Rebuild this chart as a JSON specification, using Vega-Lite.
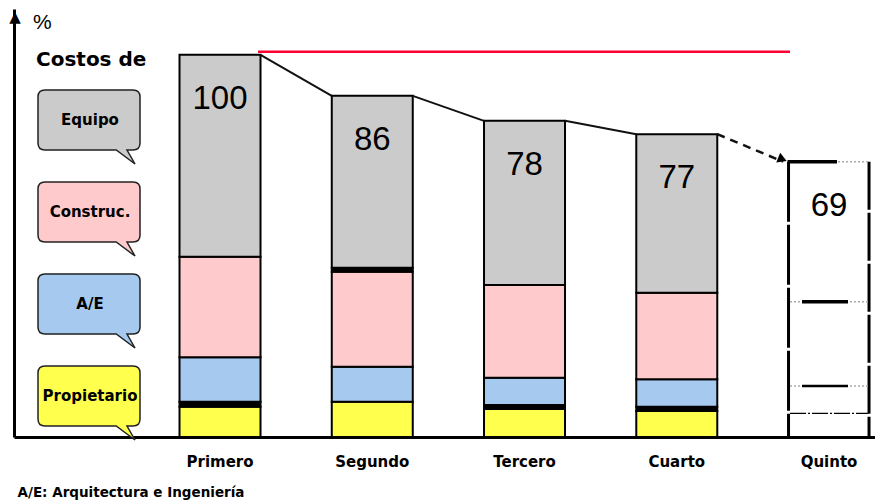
{
  "$schema": "https://vega.github.io/schema/vega-lite/v6.json",
  "width": 861,
  "height": 428,
  "autosize": "none",
  "padding": {"left": 14, "top": 9, "right": 0, "bottom": 64},
  "background": "white",
  "config": {"view": {"stroke": null}, "font": "DejaVu Sans"},
  "title": {"text": "%", "anchor": "start", "frame": "group", "orient": "top", "offset": 0, "dx": 19, "dy": 41, "baseline": "alphabetic", "font": "Liberation Sans", "fontSize": 21, "fontWeight": "normal", "color": "black"},
  "datasets": {
    "barras": [
      {"etapa": "Primero", "costo": "Propietario", "capa": 1, "valor": 7.93},
      {"etapa": "Primero", "costo": "línea", "capa": 2, "valor": 1.31},
      {"etapa": "Primero", "costo": "A/E", "capa": 3, "valor": 11.62},
      {"etapa": "Primero", "costo": "Construc.", "capa": 4, "valor": 26.34},
      {"etapa": "Primero", "costo": "Equipo", "capa": 5, "valor": 52.8},
      {"etapa": "Segundo", "costo": "Propietario", "capa": 1, "valor": 9.24},
      {"etapa": "Segundo", "costo": "A/E", "capa": 2, "valor": 9.16},
      {"etapa": "Segundo", "costo": "Construc.", "capa": 3, "valor": 24.87},
      {"etapa": "Segundo", "costo": "línea", "capa": 4, "valor": 1.05},
      {"etapa": "Segundo", "costo": "Equipo", "capa": 5, "valor": 44.95},
      {"etapa": "Tercero", "costo": "Propietario", "capa": 1, "valor": 7.33},
      {"etapa": "Tercero", "costo": "línea", "capa": 2, "valor": 1.05},
      {"etapa": "Tercero", "costo": "A/E", "capa": 3, "valor": 7.15},
      {"etapa": "Tercero", "costo": "Construc.", "capa": 4, "valor": 24.27},
      {"etapa": "Tercero", "costo": "Equipo", "capa": 5, "valor": 42.93},
      {"etapa": "Cuarto", "costo": "Propietario", "capa": 1, "valor": 6.81},
      {"etapa": "Cuarto", "costo": "línea", "capa": 2, "valor": 1.13},
      {"etapa": "Cuarto", "costo": "A/E", "capa": 3, "valor": 7.17},
      {"etapa": "Cuarto", "costo": "Construc.", "capa": 4, "valor": 22.67},
      {"etapa": "Cuarto", "costo": "Equipo", "capa": 5, "valor": 41.47}
    ],
    "totales": [
      {"etapa": "Primero", "total": 100, "etiqueta": "100"},
      {"etapa": "Segundo", "total": 89.27, "etiqueta": "86"},
      {"etapa": "Tercero", "total": 82.73, "etiqueta": "78"},
      {"etapa": "Cuarto", "total": 79.25, "etiqueta": "77"},
      {"etapa": "Quinto", "total": 72.05, "etiqueta": "69"}
    ],
    "conectores": [
      {"desde": "Primero", "hasta": "Segundo", "y1": 100, "y2": 89.27, "tipo": "real"},
      {"desde": "Segundo", "hasta": "Tercero", "y1": 89.27, "y2": 82.73, "tipo": "real"},
      {"desde": "Tercero", "hasta": "Cuarto", "y1": 82.73, "y2": 79.25, "tipo": "real"},
      {"desde": "Cuarto", "hasta": "Quinto", "y1": 79.25, "y2": 72.05, "tipo": "proyectado"}
    ],
    "quinto": [
      {"etapa": "Quinto", "nivel": 72.05, "marca": "tope"},
      {"etapa": "Quinto", "nivel": 35.41, "marca": "gruesa"},
      {"etapa": "Quinto", "nivel": 13.35, "marca": "delgada"},
      {"etapa": "Quinto", "nivel": 6.2, "marca": "fina"}
    ],
    "referencia": [
      {"desde": "Primero", "hasta": "Quinto", "nivel": 100.8}
    ]
  },
  "layer": [
    {
      "data": {"name": "barras"},
      "mark": {"type": "bar", "stroke": "black", "strokeWidth": 2},
      "encoding": {
        "x": {"field": "etapa", "type": "nominal", "sort": null,
          "scale": {"domain": ["Primero", "Segundo", "Tercero", "Cuarto", "Quinto"], "paddingInner": 0.468, "paddingOuter": 0.5615, "align": 0.968},
          "axis": {"title": "A/E:  Arquitectura e Ingeniería", "titleFont": "DejaVu Sans", "titleFontSize": 13.5, "titleFontWeight": "bold", "titleColor": "black", "titleAnchor": "start", "titleAlign": "left", "titleBaseline": "middle", "titleX": 3, "titleY": 55,
            "labelAngle": 0, "labelFont": "DejaVu Sans", "labelFontSize": 15, "labelFontWeight": "bold", "labelColor": "black", "labelPadding": 17,
            "ticks": false, "domain": true, "domainColor": "black", "domainWidth": 3, "grid": false}},
        "y": {"field": "valor", "type": "quantitative", "stack": "zero",
          "scale": {"domain": [0, 112], "nice": false},
          "axis": {"title": "▲", "titleFont": "DejaVu Sans", "titleFontSize": 15, "titleFontWeight": "normal", "titleColor": "black", "titleAngle": 0, "titleAlign": "center", "titleBaseline": "alphabetic", "titleX": 0.5, "titleY": 12,
            "labels": false, "ticks": false, "grid": false, "domain": true, "domainColor": "black", "domainWidth": 3}},
        "order": {"field": "capa", "type": "quantitative"},
        "color": {"field": "costo", "type": "nominal",
          "scale": {"domain": ["Propietario", "línea", "A/E", "Construc.", "Equipo"], "range": ["#ffff4d", "#000000", "#a6c9ef", "#ffcacb", "#cbcbcb"]},
          "legend": {"values": ["Equipo", "Construc.", "A/E", "Propietario"], "orient": "none", "legendX": 22, "legendY": 41, "direction": "vertical", "padding": 0,
            "title": "Costos de", "titleFont": "DejaVu Sans", "titleFontSize": 20, "titleFontWeight": "bold", "titleColor": "black", "titlePadding": 9,
            "symbolType": "M -1.1 -0.75 L 1.1 -0.75 Q 1.275 -0.75 1.275 -0.575 L 1.275 0.575 Q 1.275 0.75 1.1 0.75 L 0.95 0.75 L 1.15 1.1 L 0.68 0.75 L -1.1 0.75 Q -1.275 0.75 -1.275 0.575 L -1.275 -0.575 Q -1.275 -0.75 -1.1 -0.75 Z",
            "symbolSize": 6400, "symbolStrokeColor": "#222222", "symbolStrokeWidth": 1.5, "symbolOffset": 12, "symbolOpacity": 1,
            "labelFont": "DejaVu Sans", "labelFontSize": 15, "labelFontWeight": "bold", "labelColor": "black", "labelAlign": "center", "labelOffset": -40, "rowPadding": 4}}
      }
    },
    {
      "data": {"name": "totales"},
      "transform": [{"filter": "datum.etapa === 'Quinto'"}],
      "mark": {"type": "rule", "color": "black", "strokeWidth": 3, "strokeDash": [60, 3], "xOffset": -40.5},
      "encoding": {
        "x": {"field": "etapa", "type": "nominal"},
        "y": {"field": "total", "type": "quantitative"},
        "y2": {"datum": 0}
      }
    },
    {
      "data": {"name": "totales"},
      "transform": [{"filter": "datum.etapa === 'Quinto'"}],
      "mark": {"type": "rule", "color": "black", "strokeWidth": 3, "strokeDash": [48, 3], "xOffset": 40},
      "encoding": {
        "x": {"field": "etapa", "type": "nominal"},
        "y": {"field": "total", "type": "quantitative"},
        "y2": {"datum": 0}
      }
    },
    {
      "data": {"name": "quinto"},
      "transform": [{"filter": "datum.marca !== 'fina'"}],
      "mark": {"type": "rule", "color": "#aaaaaa", "strokeWidth": 1.5, "strokeDash": [2, 2], "xOffset": -39, "x2Offset": 39},
      "encoding": {
        "x": {"field": "etapa", "type": "nominal"},
        "x2": {"field": "etapa"},
        "y": {"field": "nivel", "type": "quantitative"}
      }
    },
    {
      "data": {"name": "quinto"},
      "transform": [{"filter": "datum.marca === 'tope'"}],
      "mark": {"type": "rule", "color": "black", "strokeWidth": 3.5, "xOffset": -41.5, "x2Offset": 8},
      "encoding": {
        "x": {"field": "etapa", "type": "nominal"},
        "x2": {"field": "etapa"},
        "y": {"field": "nivel", "type": "quantitative"}
      }
    },
    {
      "data": {"name": "quinto"},
      "transform": [{"filter": "datum.marca === 'gruesa'"}],
      "mark": {"type": "rule", "color": "black", "strokeWidth": 3.5, "xOffset": -27, "x2Offset": 19},
      "encoding": {
        "x": {"field": "etapa", "type": "nominal"},
        "x2": {"field": "etapa"},
        "y": {"field": "nivel", "type": "quantitative"}
      }
    },
    {
      "data": {"name": "quinto"},
      "transform": [{"filter": "datum.marca === 'delgada'"}],
      "mark": {"type": "rule", "color": "black", "strokeWidth": 2.5, "xOffset": -27, "x2Offset": 19},
      "encoding": {
        "x": {"field": "etapa", "type": "nominal"},
        "x2": {"field": "etapa"},
        "y": {"field": "nivel", "type": "quantitative"}
      }
    },
    {
      "data": {"name": "quinto"},
      "transform": [{"filter": "datum.marca === 'fina'"}],
      "mark": {"type": "rule", "color": "black", "strokeWidth": 1.2, "strokeDash": [16, 2, 2, 2], "xOffset": -39, "x2Offset": 39},
      "encoding": {
        "x": {"field": "etapa", "type": "nominal"},
        "x2": {"field": "etapa"},
        "y": {"field": "nivel", "type": "quantitative"}
      }
    },
    {
      "data": {"name": "conectores"},
      "transform": [{"filter": "datum.tipo === 'real'"}],
      "mark": {"type": "rule", "color": "#111111", "strokeWidth": 2, "xOffset": 40.5, "x2Offset": -40.5},
      "encoding": {
        "x": {"field": "desde", "type": "nominal"},
        "x2": {"field": "hasta"},
        "y": {"field": "y1", "type": "quantitative"},
        "y2": {"field": "y2"}
      }
    },
    {
      "data": {"name": "conectores"},
      "transform": [{"filter": "datum.tipo === 'proyectado'"}],
      "mark": {"type": "rule", "color": "#111111", "strokeWidth": 2.5, "strokeDash": [8, 6], "xOffset": 40.5, "x2Offset": -46},
      "encoding": {
        "x": {"field": "desde", "type": "nominal"},
        "x2": {"field": "hasta"},
        "y": {"field": "y1", "type": "quantitative"},
        "y2": {"field": "y2"}
      }
    },
    {
      "data": {"name": "totales"},
      "transform": [{"filter": "datum.etapa === 'Quinto'"}],
      "mark": {"type": "point", "shape": "triangle-right", "filled": true, "color": "black", "opacity": 1, "size": 110, "angle": 22, "xOffset": -46.6, "yOffset": -2.3},
      "encoding": {
        "x": {"field": "etapa", "type": "nominal"},
        "y": {"field": "total", "type": "quantitative"}
      }
    },
    {
      "data": {"name": "referencia"},
      "mark": {"type": "rule", "color": "#ff0033", "strokeWidth": 2.5, "xOffset": 38, "x2Offset": -39},
      "encoding": {
        "x": {"field": "desde", "type": "nominal"},
        "x2": {"field": "hasta"},
        "y": {"field": "nivel", "type": "quantitative"}
      }
    },
    {
      "data": {"name": "totales"},
      "mark": {"type": "text", "font": "Liberation Sans", "fontSize": 33, "fontWeight": "normal", "color": "black", "baseline": "middle", "align": "center", "dy": 44},
      "encoding": {
        "x": {"field": "etapa", "type": "nominal"},
        "y": {"field": "total", "type": "quantitative"},
        "text": {"field": "etiqueta"}
      }
    }
  ]
}
